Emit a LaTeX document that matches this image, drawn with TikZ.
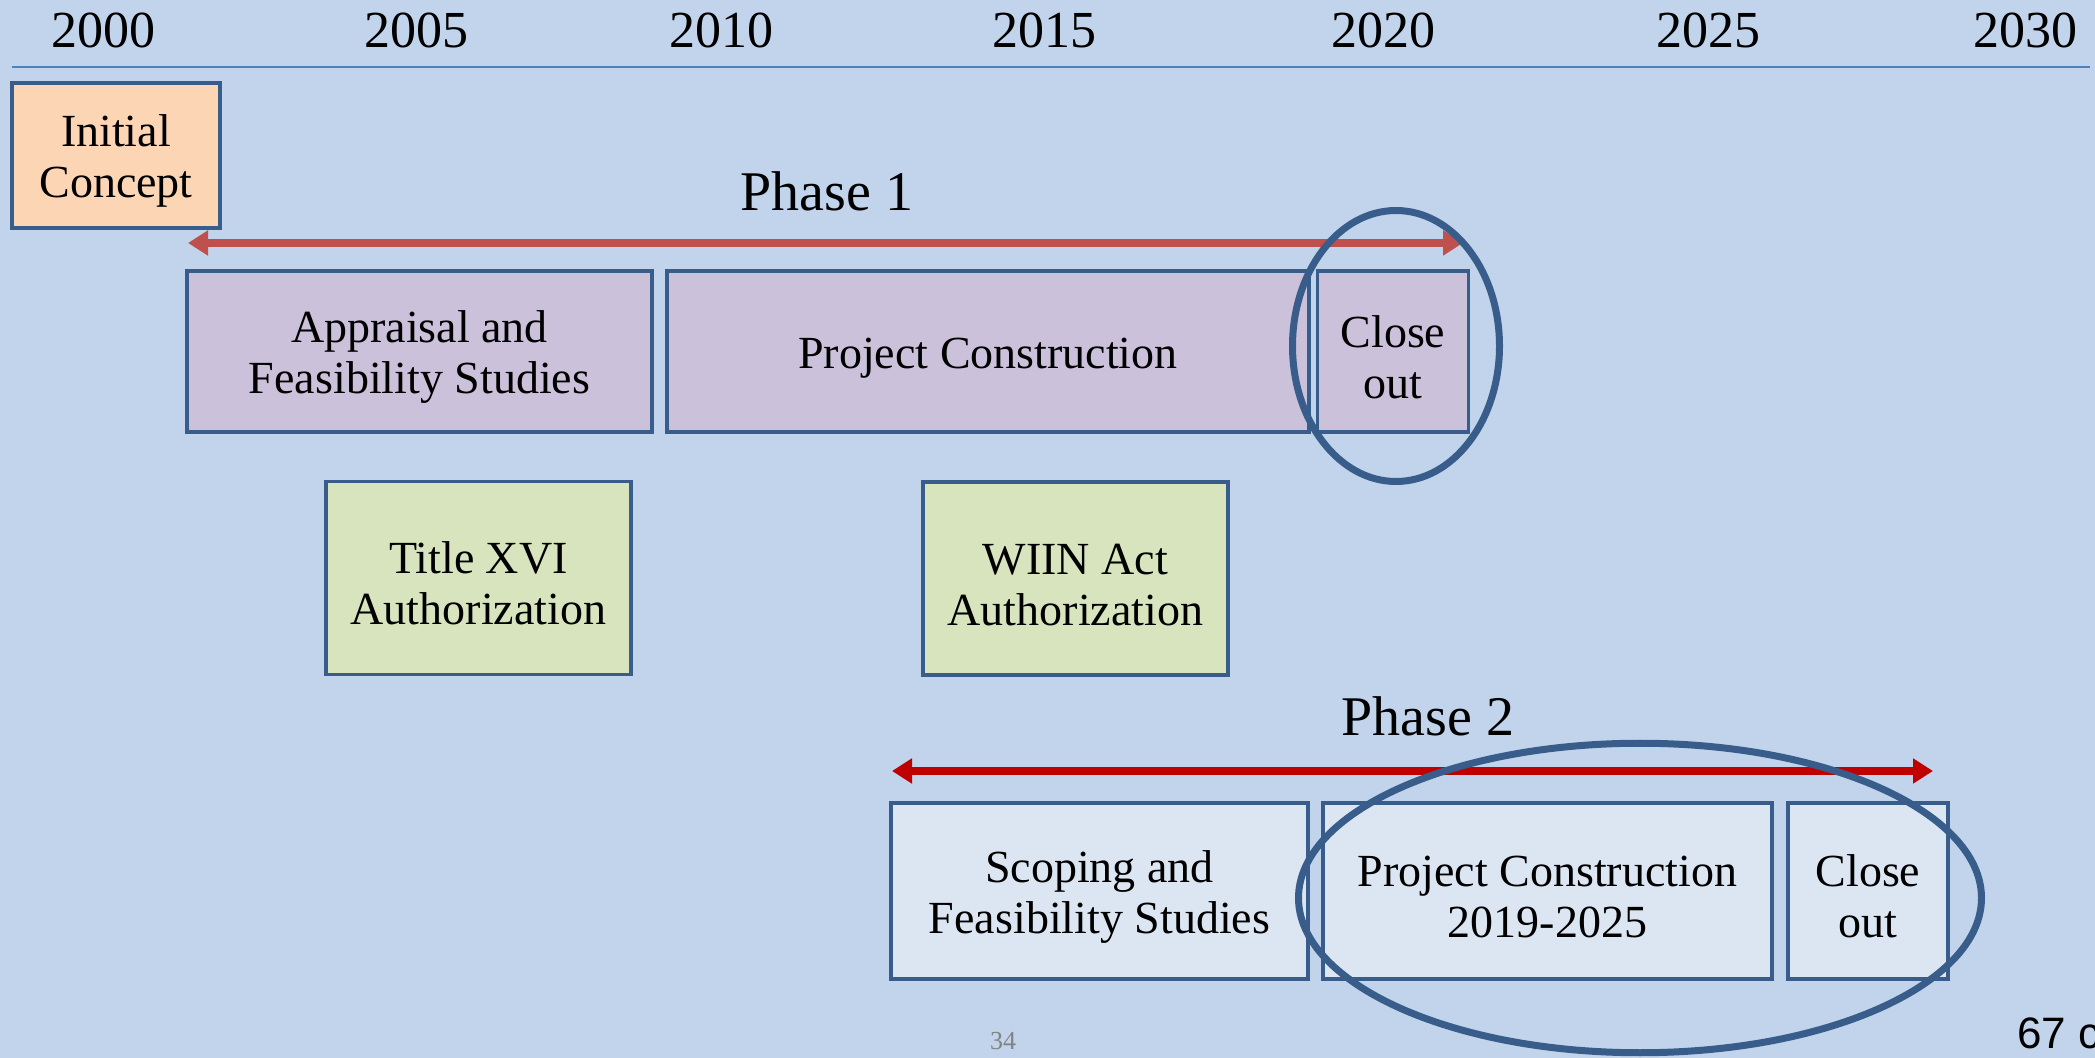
\documentclass[tikz,border=0pt]{standalone}
\usepackage{fontspec}
\setmainfont{Liberation Serif}
\newfontfamily\labelsans{Liberation Sans}
\usetikzlibrary{arrows.meta,shapes.geometric}
\definecolor{bgblue}{RGB}{193,212,236}
\definecolor{axisblue}{RGB}{79,129,189}
\definecolor{boxline}{RGB}{56,93,138}
\definecolor{peach}{RGB}{252,213,181}
\definecolor{lavender}{RGB}{204,193,218}
\definecolor{sage}{RGB}{215,228,189}
\definecolor{pale}{RGB}{220,230,242}
\definecolor{spanone}{RGB}{192,80,77}
\definecolor{spantwo}{RGB}{192,0,0}
\definecolor{pagegrey}{RGB}{130,130,130}
% taller first line so box text sits a little low, as in the slide
\newcommand\liftstrut{\rule{0pt}{21.5pt}}
\begin{document}
\begin{tikzpicture}[x=0.5pt,y=-0.5pt,
  stage/.style={draw=boxline,line width=1.6pt,inner sep=0pt,align=center,
    font=\fontsize{23}{25.5}\selectfont},
  year/.style={inner sep=0pt,font=\fontsize{26}{26}\selectfont},
  phase/.style={inner sep=0pt,font=\fontsize{28}{28}\selectfont},
  span/.style={line width=3.6pt,
    {Triangle[length=10pt,width=12pt]}-{Triangle[length=10pt,width=12pt]}},
  ring/.style={draw=boxline,line width=3.5pt,ellipse,inner sep=0pt}
]
% page background and frame
\fill[bgblue] (0,0) rectangle (2095,1058);
\useasboundingbox (0,0) rectangle (2095,1058);

% year scale
\node[year] (y2000) at (103,30.5) {2000};
\node[year] (y2005) at (416,30.5) {2005};
\node[year] (y2010) at (721,30.5) {2010};
\node[year] (y2015) at (1044,30.5) {2015};
\node[year] (y2020) at (1383,30.5) {2020};
\node[year] (y2025) at (1708,30.5) {2025};
\node[year] (y2030) at (2025,30.5) {2030};
\coordinate (axisL) at (12,67);
\coordinate (axisR) at (2090,67);
\draw[axisblue,line width=1.4pt] (axisL) -- (axisR);

% start
\node[stage,fill=peach,minimum width=104pt,minimum height=72.5pt] (init) at (116,155.5) {\liftstrut Initial\\Concept};

% phase 1
\node[phase] (ph1) at (827,191) {Phase 1};
\coordinate (p1L) at (188,243);
\coordinate (p1R) at (1463,243);
\draw[span,spanone] (p1L) -- (p1R);
\node[stage,fill=lavender,minimum width=232.5pt,minimum height=80.5pt] (appr) at (419.5,351.5) {\liftstrut Appraisal and\\Feasibility Studies};
\node[stage,fill=lavender,minimum width=321pt,minimum height=80.5pt] (pc1) at (988,351.5) {\liftstrut Project Construction};
\node[stage,fill=lavender,minimum width=75.5pt,minimum height=80.5pt] (co1) at (1393,351.5) {\liftstrut Close\\out};

% authorizations
\node[stage,fill=sage,minimum width=152.5pt,minimum height=96.5pt] (t16) at (478.5,578) {\liftstrut Title XVI\\Authorization};
\node[stage,fill=sage,minimum width=152.5pt,minimum height=96.5pt] (wiin) at (1075.5,578.5) {\liftstrut WIIN Act\\Authorization};

% phase 2
\node[phase] (ph2) at (1428,716) {Phase 2};
\coordinate (p2L) at (892,771);
\coordinate (p2R) at (1933,771);
\draw[span,spantwo] (p2L) -- (p2R);
\node[stage,fill=pale,minimum width=208.5pt,minimum height=88pt] (scop) at (1099.5,891) {\liftstrut Scoping and\\Feasibility Studies};
\node[stage,fill=pale,minimum width=224.5pt,minimum height=88pt] (pc2) at (1547.5,891) {\liftstrut Project Construction\\2019-2025};
\node[stage,fill=pale,minimum width=80pt,minimum height=88pt] (co2) at (1868,891) {\liftstrut Close\\out};

% highlight rings
\node[ring,minimum width=103.5pt,minimum height=135.5pt] (ring1) at (1396,346) {};
\node[ring,minimum width=341.5pt,minimum height=154.75pt] (ring2) at (1640,898) {};

% footer
\node[inner sep=0pt,text=pagegrey,font=\fontsize{13}{13}\selectfont] (pg) at (1003,1041) {34};
\node[inner sep=0pt,anchor=west,font=\labelsans\fontsize{22}{22}\selectfont] (cnt) at (2017,1033) {67 c};
\end{tikzpicture}
\end{document}
